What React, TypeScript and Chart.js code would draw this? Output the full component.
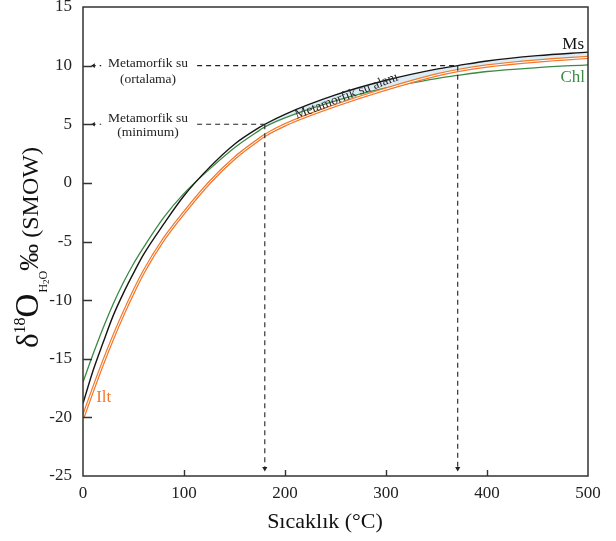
import React, { useEffect, useRef } from "react";
import { Chart, registerables } from "chart.js";

Chart.register(...registerables);

// Temperature grid (°C)
const temps = [0, 10, 20, 30, 40, 50, 60, 80, 100, 125, 150, 175, 180, 200, 250, 300, 350, 371, 400, 450, 500];
// δ18O of water in equilibrium (‰ SMOW)
const msValues = [-18.8, -16.0, -13.6, -11.3, -9.4, -7.7, -6.1, -3.5, -1.1, 1.3, 3.3, 4.75, 5.0, 5.85, 7.5, 8.75, 9.7, 10.0, 10.4, 10.85, 11.15];
const chlValues = [-17.0, -14.6, -12.35, -10.3, -8.5, -6.9, -5.5, -2.95, -0.9, 1.15, 3.0, 4.5, 4.78, 5.55, 7.0, 8.1, 8.9, 9.17, 9.5, 9.83, 10.07];
const iltValues = [-20.0, -17.6, -15.3, -13.15, -11.15, -9.3, -7.6, -4.8, -2.55, 0.0, 2.1, 3.75, 4.05, 4.95, 6.6, 8.0, 9.2, 9.58, 9.97, 10.4, 10.7];

// Metamorphic water reference levels and the temperatures where Ms reaches them
const refLevels = [5, 10];
const refTemps = [180, 371];
const bandStart = 180;

const xTicks = [0, 100, 200, 300, 400, 500];
const yTicks = [-25, -20, -15, -10, -5, 0, 5, 10, 15];

const SERIF = '"Liberation Serif", "Times New Roman", serif';
const INK = "#222222";
const GREEN = "#3b8a45";
const ORANGE = "#f27a2e";
const BLUE = "#dcedf6";

const pts = (ys: number[]) => temps.map((t, i) => ({ x: t, y: ys[i] }));

export default function App() {
  const ref = useRef<HTMLCanvasElement | null>(null);

  useEffect(() => {
    if (!ref.current) return;
    const bandIdx = temps.map((t, i) => i).filter((i) => temps[i] >= bandStart);
    const bandTop = bandIdx.map((i) => ({ x: temps[i], y: msValues[i] }));
    const bandBottom = bandIdx.map((i) => ({ x: temps[i], y: Math.max(chlValues[i], iltValues[i]) }));

    const dash = [5, 4];
    const refDatasets: any[] = [];
    refLevels.forEach((lvl, k) => {
      const t = refTemps[k];
      refDatasets.push({
        data: [{ x: 113, y: lvl }, { x: t, y: lvl }],
        borderColor: INK, borderWidth: 1.1, borderDash: dash, pointRadius: 0, fill: false, order: 1,
      });
      refDatasets.push({
        data: [{ x: t, y: lvl }, { x: t, y: -24.35 }],
        borderColor: INK, borderWidth: 1.1, borderDash: dash, fill: false, order: 1,
        pointRadius: [0, 3], pointStyle: "triangle", pointRotation: 180,
        pointBackgroundColor: INK, pointBorderColor: INK, pointBorderWidth: 0,
      });
      refDatasets.push({
        data: [{ x: 18, y: lvl }, { x: 10.5, y: lvl }],
        borderColor: INK, borderWidth: 1.1, borderDash: [1.5, 4], fill: false, order: 1,
        pointRadius: [0, 2.6], pointStyle: "triangle", pointRotation: 270,
        pointBackgroundColor: INK, pointBorderColor: INK, pointBorderWidth: 0,
      });
    });

    const decor = {
      id: "decor",
      afterDatasetsDraw(chart: any) {
        const { ctx, chartArea: a, scales } = chart;
        const xs = scales.x, ys = scales.y;
        ctx.save();
        ctx.strokeStyle = "#333";
        ctx.lineWidth = 1.5;
        ctx.strokeRect(a.left, a.top, a.right - a.left, a.bottom - a.top);
        ctx.lineWidth = 1.4;
        ctx.beginPath();
        yTicks.forEach((v) => {
          if (v <= ys.min || v >= ys.max) return;
          const py = Math.round(ys.getPixelForValue(v)) + 0.5;
          ctx.moveTo(a.left, py);
          ctx.lineTo(a.left + 9, py);
        });
        xTicks.forEach((v) => {
          if (v <= xs.min || v >= xs.max) return;
          const px = Math.round(xs.getPixelForValue(v)) + 0.5;
          ctx.moveTo(px, a.bottom);
          ctx.lineTo(px, a.bottom - 6);
        });
        ctx.stroke();

        ctx.fillStyle = INK;
        ctx.textAlign = "center";
        ctx.textBaseline = "middle";
        ctx.font = `13.5px ${SERIF}`;
        const cx = 148;
        const y10 = ys.getPixelForValue(refLevels[1]);
        const y5 = ys.getPixelForValue(refLevels[0]);
        ctx.fillText("Metamorfik su", cx, y10 - 2);
        ctx.fillText("(ortalama)", cx, y10 + 14);
        ctx.fillText("Metamorfik su", cx, y5 - 6);
        ctx.fillText("(minimum)", cx, y5 + 8);

        ctx.save();
        ctx.translate(xs.getPixelForValue(261), ys.getPixelForValue(7.4));
        ctx.rotate((-21 * Math.PI) / 180);
        ctx.font = `13.5px ${SERIF}`;
        ctx.fillStyle = "#2a2a2a";
        ctx.fillText("Metamorfik su alanı", 0, 0);
        ctx.restore();

        ctx.font = `17px ${SERIF}`;
        ctx.textAlign = "right";
        ctx.fillStyle = "#111";
        ctx.fillText("Ms", a.right - 4, ys.getPixelForValue(11.8));
        ctx.fillStyle = GREEN;
        ctx.fillText("Chl", a.right - 3, ys.getPixelForValue(9.0));
        ctx.fillStyle = ORANGE;
        ctx.textAlign = "left";
        ctx.fillText("Ilt", xs.getPixelForValue(13), ys.getPixelForValue(-18.3));

        ctx.fillStyle = "#111";
        ctx.textAlign = "center";
        ctx.font = `22px ${SERIF}`;
        ctx.fillText("Sıcaklık (°C)", 325, 522);

        ctx.save();
        ctx.translate(38, 348);
        ctx.rotate(-Math.PI / 2);
        ctx.textAlign = "left";
        ctx.textBaseline = "alphabetic";
        let p = 0;
        const run = (txt: string, size: number, dy: number) => {
          ctx.font = `${size}px ${SERIF}`;
          ctx.fillText(txt, p, dy);
          p += ctx.measureText(txt).width;
        };
        run("δ", 31, 0);
        run("18", 16, -13);
        run("O", 33, 0);
        p += 1;
        run("H", 12, 9);
        run("2", 9, 11);
        run("O", 12, 9);
        run("‰", 27, 0);
        run(" (SMOW)", 24, 0);
        ctx.restore();

        ctx.restore();
      },
    };

    const chart = new Chart(ref.current, {
      type: "line",
      data: {
        datasets: [
          { data: bandBottom, borderWidth: 0, pointRadius: 0, fill: false, order: 20, cubicInterpolationMode: "monotone" },
          { data: bandTop, borderWidth: 0, pointRadius: 0, fill: "-1", backgroundColor: BLUE, order: 19, cubicInterpolationMode: "monotone" },
          { label: "Chl", data: pts(chlValues), borderColor: GREEN, borderWidth: 1.3, pointRadius: 0, fill: false, order: 6, cubicInterpolationMode: "monotone" },
          { label: "Ilt", data: pts(iltValues), borderColor: ORANGE, borderWidth: 3.4, pointRadius: 0, fill: false, order: 5, cubicInterpolationMode: "monotone" },
          { label: "Ilt-inner", data: pts(iltValues), borderColor: "#ffffff", borderWidth: 1, pointRadius: 0, fill: false, order: 4, cubicInterpolationMode: "monotone" },
          { label: "Ms", data: pts(msValues), borderColor: "#151515", borderWidth: 1.4, pointRadius: 0, fill: false, order: 3, cubicInterpolationMode: "monotone" },
          ...refDatasets,
        ] as any,
      },
      options: {
        animation: false,
        responsive: false,
        maintainAspectRatio: false,
        layout: { padding: { top: 7, right: 28, left: 0, bottom: 0 } },
        plugins: {
          legend: { display: false },
          tooltip: { enabled: false },
          filler: { drawTime: "beforeDatasetsDraw" } as any,
        },
        scales: {
          x: {
            type: "linear",
            min: 0,
            max: 500,
            afterBuildTicks: (s: any) => { s.ticks = xTicks.map((v) => ({ value: v })); },
            afterFit: (s: any) => { s.height = 65; s.paddingLeft = 0; s.paddingRight = 0; },
            grid: { display: false, drawTicks: false },
            border: { display: false },
            ticks: { padding: 7, color: INK, font: { family: SERIF, size: 17 }, maxRotation: 0, autoSkip: false },
          },
          y: {
            type: "linear",
            min: -25,
            max: 15,
            afterBuildTicks: (s: any) => { s.ticks = yTicks.map((v) => ({ value: v })); },
            afterFit: (s: any) => { s.width = 83; s.paddingTop = 0; s.paddingBottom = 0; },
            grid: { display: false, drawTicks: false },
            border: { display: false },
            ticks: { padding: 11, color: INK, font: { family: SERIF, size: 17 } },
          },
        },
      },
      plugins: [decor],
    });
    return () => chart.destroy();
  }, []);

  return (
    <div style={{ position: "fixed", left: 0, top: 0, width: 616, height: 541, background: "#fff" }}>
      <canvas ref={ref} width={616} height={541} style={{ width: 616, height: 541 }} />
    </div>
  );
}
